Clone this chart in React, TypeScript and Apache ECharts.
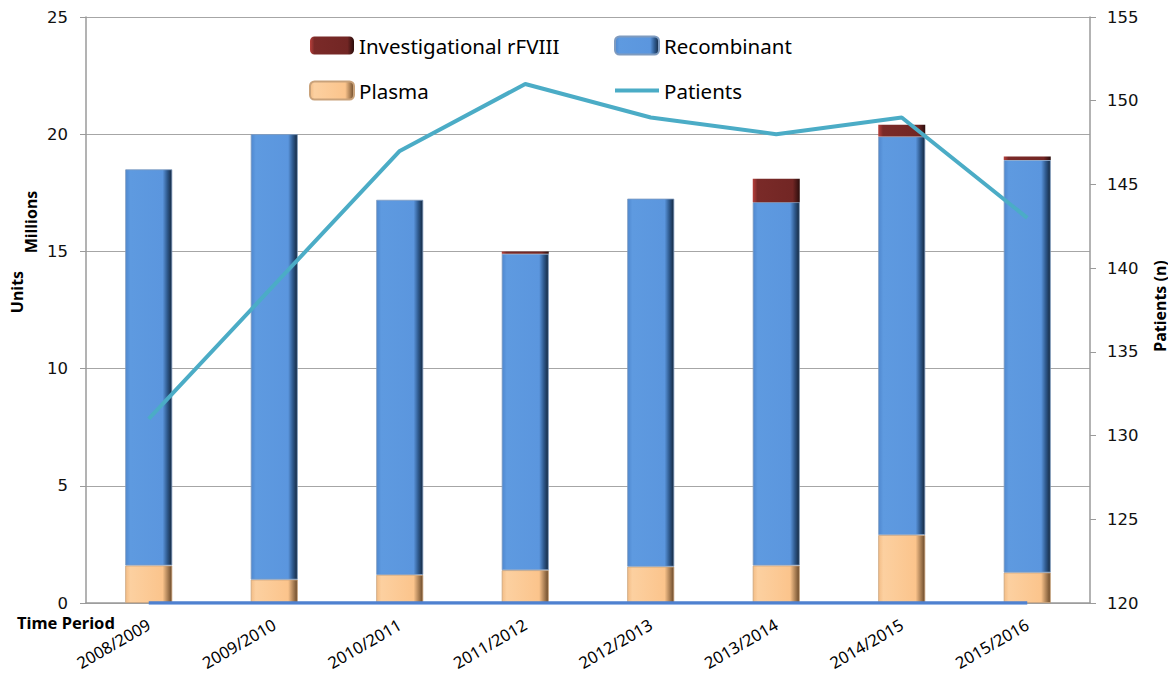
import React, { useEffect, useRef } from "react";
import * as echarts from "echarts";

const categories = ["2008/2009", "2009/2010", "2010/2011", "2011/2012", "2012/2013", "2013/2014", "2014/2015", "2015/2016"];
const plasma = [1.6, 1.0, 1.2, 1.4, 1.55, 1.6, 2.9, 1.3];
const recombinant = [16.9, 19.0, 16.0, 13.5, 15.7, 15.5, 17.0, 17.6];
const investigational = [0, 0, 0, 0.1, 0, 1.0, 0.5, 0.15];
const patients = [131, 139, 147, 151, 149, 148, 149, 143];
const baseline = [0, 0, 0, 0, 0, 0, 0, 0];

const hGrad = (stops: [number, string][]) =>
  new echarts.graphic.LinearGradient(0, 0, 1, 0, stops.map(([offset, color]) => ({ offset, color })));

export default function App() {
  const ref = useRef<HTMLDivElement>(null);
  useEffect(() => {
    if (!ref.current) return;
    const chart = echarts.init(ref.current, null, { renderer: "svg" });
    const numFont = "DejaVu Sans";
    const txtFont = "Noto Sans";
    const legendText = { fontFamily: txtFont, fontSize: 20.5, color: "#000" };
    chart.setOption({
      animation: false,
      backgroundColor: "#ffffff",
      grid: { left: 86, right: 86, top: 17, bottom: 81 },
      legend: [
        {
          orient: "vertical",
          left: 304,
          top: 30,
          itemGap: 24,
          itemWidth: 44,
          itemHeight: 18,
          textStyle: legendText,
          data: ["Investigational rFVIII", "Plasma"],
        },
        {
          orient: "vertical",
          left: 609,
          top: 30,
          itemGap: 24,
          itemWidth: 44,
          itemHeight: 18,
          textStyle: legendText,
          data: ["Recombinant", { name: "Patients", icon: "path://M0,0 H44 V4 H0 Z" }],
        },
      ],
      xAxis: {
        type: "category",
        data: categories,
        axisLine: { lineStyle: { color: "#9a9a9a", width: 1.5 } },
        axisTick: { show: false },
        axisLabel: { rotate: 30, fontFamily: txtFont, fontSize: 16.5, color: "#000", margin: 20, interval: 0 },
      },
      yAxis: [
        {
          type: "value",
          min: 0,
          max: 25,
          interval: 5,
          axisLine: { show: true, lineStyle: { color: "#9a9a9a", width: 1.5 } },
          axisTick: { show: true, length: 6, lineStyle: { color: "#9a9a9a" } },
          splitLine: { lineStyle: { color: "#a6a6a6", width: 1.2 } },
          axisLabel: { fontFamily: numFont, fontSize: 16.5, color: "#111", margin: 18 },
        },
        {
          type: "value",
          min: 120,
          max: 155,
          interval: 5,
          position: "right",
          axisLine: { show: true, lineStyle: { color: "#9a9a9a", width: 1.5 } },
          axisTick: { show: true, length: 6, lineStyle: { color: "#9a9a9a" } },
          splitLine: { show: false },
          axisLabel: { fontFamily: numFont, fontSize: 16.5, color: "#111", margin: 17 },
        },
      ],
      series: [
        {
          name: "Plasma",
          type: "bar",
          stack: "units",
          barWidth: 47,
          data: plasma,
          itemStyle: {
            color: hGrad([[0, "#f3bd86"], [0.1, "#fcd0a0"], [0.8, "#fbc48c"], [1, "#6b4a2a"]]),
            borderColor: "#c9a27a",
            borderWidth: 0.8,
          },
        },
        {
          name: "Recombinant",
          type: "bar",
          stack: "units",
          data: recombinant,
          itemStyle: {
            color: hGrad([[0, "#4f88cf"], [0.1, "#5e9ae0"], [0.8, "#5b96de"], [0.9, "#2f5a8e"], [1, "#142840"]]),
            borderColor: "#7f9bbf",
            borderWidth: 0.8,
          },
        },
        {
          name: "Investigational rFVIII",
          type: "bar",
          stack: "units",
          data: investigational,
          itemStyle: {
            color: hGrad([[0, "#b8403c"], [0.1, "#7a2a28"], [0.85, "#722624"], [1, "#2a0d0c"]]),
            borderColor: "#3a1110",
            borderWidth: 0,
          },
        },
        {
          name: "Patients",
          type: "line",
          yAxisIndex: 1,
          data: patients,
          showSymbol: false,
          symbol: "none",
          lineStyle: { color: "#4bacc6", width: 4 },
          itemStyle: { color: "#4bacc6" },
        },
        {
          name: "Units",
          type: "line",
          yAxisIndex: 0,
          data: baseline,
          showSymbol: false,
          symbol: "none",
          lineStyle: { color: "#4f81d0", width: 3.5 },
          z: 5,
        },
      ],
      graphic: [
        {
          type: "text",
          left: 17,
          top: 614,
          style: { text: "Time Period", font: `bold 16.5px "${txtFont}"`, fill: "#000" },
        },
        {
          type: "text",
          x: 31,
          y: 222,
          rotation: Math.PI / 2,
          style: { text: "Millions", font: `bold 16px "${txtFont}"`, fill: "#000", align: "center", verticalAlign: "middle" },
        },
        {
          type: "text",
          x: 17,
          y: 292,
          rotation: Math.PI / 2,
          style: { text: "Units", font: `bold 16px "${txtFont}"`, fill: "#000", align: "center", verticalAlign: "middle" },
        },
        {
          type: "text",
          x: 1160,
          y: 306,
          rotation: Math.PI / 2,
          style: { text: "Patients (n)", font: `bold 16px "${txtFont}"`, fill: "#000", align: "center", verticalAlign: "middle" },
        },
      ],
    });
    return () => chart.dispose();
  }, []);
  return <div ref={ref} style={{ width: 1176, height: 684, margin: -8 }} />;
}
